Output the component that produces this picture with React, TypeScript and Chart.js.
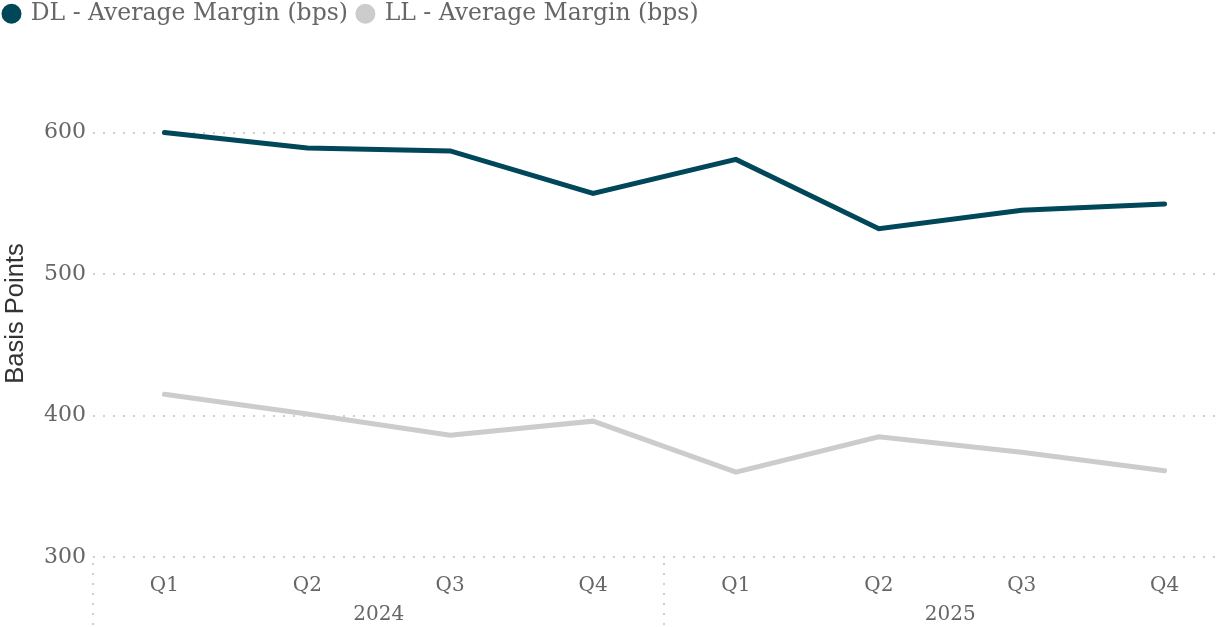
import { useEffect, useRef } from 'react';
import { Chart, registerables } from 'chart.js';

Chart.register(...registerables);

const quarters = ['Q1', 'Q2', 'Q3', 'Q4', 'Q1', 'Q2', 'Q3', 'Q4'];
const years = ['2024', '2025'];
const dlMargin = [600, 589, 587, 557, 581, 532, 545, 549.5];
const llMargin = [415, 401, 386, 396, 360, 385, 374, 361];
const yTicks = [300, 400, 500, 600];
const seriesNames = ['DL - Average Margin (bps)', 'LL - Average Margin (bps)'];
const seriesColors = ['#00475a', '#cccccc'];
const yTitle = 'Basis Points';

const SERIF = "'DejaVu Serif', serif";
const SANS = "'Liberation Sans', Arial, sans-serif";
const TEXT = '#666666';
const GRID = '#cfcfcf';

const legendSpacer = {
  id: 'legendSpacer',
  beforeInit(chart: any) {
    const legend = chart.legend;
    if (!legend) return;
    const origFit = legend.fit;
    legend.fit = function () {
      origFit.call(this);
      this.height += 97;
    };
  },
  afterLayout(chart: any) {
    const legend = chart.legend;
    if (!legend) return;
    const shift = legend.left + 6;
    legend.left -= shift;
    legend.right -= shift;
  },
};

const yAxisTitle = {
  id: 'yAxisTitle',
  afterDraw(chart: any) {
    const ctx = chart.ctx;
    ctx.save();
    ctx.translate(16, chart.height / 2);
    ctx.rotate(-Math.PI / 2);
    ctx.fillStyle = '#333333';
    ctx.font = `25.5px ${SANS}`;
    ctx.textAlign = 'center';
    ctx.textBaseline = 'middle';
    ctx.fillText(yTitle, 0, 0);
    ctx.restore();
  },
};

const groupSeparators = {
  id: 'groupSeparators',
  afterDraw(chart: any) {
    const x = chart.scales.x;
    const ctx = chart.ctx;
    const per = quarters.length / years.length;
    const half = (x.getPixelForValue(1) - x.getPixelForValue(0)) / 2;
    ctx.save();
    ctx.strokeStyle = GRID;
    ctx.lineWidth = 2;
    ctx.setLineDash([2, 8]);
    for (let g = 0; g <= years.length; g++) {
      const px = Math.round(x.getPixelForValue(g * per) - half);
      ctx.beginPath();
      ctx.moveTo(px, chart.chartArea.bottom + 6);
      ctx.lineTo(px, chart.height);
      ctx.stroke();
    }
    ctx.restore();
  },
};

export default function App() {
  const ref = useRef<HTMLCanvasElement | null>(null);

  useEffect(() => {
    if (!ref.current) return;
    const mkDataset = (i: number, data: number[]) => ({
      label: seriesNames[i],
      data,
      borderColor: seriesColors[i],
      backgroundColor: seriesColors[i],
      pointBackgroundColor: seriesColors[i],
      pointBorderColor: seriesColors[i],
      borderWidth: 5,
      pointRadius: 0,
      pointHoverRadius: 0,
      pointStyle: 'circle',
      borderCapStyle: 'round',
      tension: 0,
      clip: false,
    });
    const chart = new Chart(ref.current, {
      type: 'line',
      data: {
        labels: quarters,
        datasets: [mkDataset(0, dlMargin), mkDataset(1, llMargin)] as any,
      },
      options: {
        responsive: false,
        maintainAspectRatio: false,
        animation: false,
        layout: { padding: { left: 37, right: 14, top: -8, bottom: 0 } },
        plugins: {
          tooltip: { enabled: false },
          legend: {
            position: 'top',
            align: 'start',
            labels: {
              usePointStyle: true,
              pointStyleWidth: 15,
              boxHeight: 10.5,
              padding: 10,
              color: TEXT,
              font: { family: SERIF, size: 23.5 },
            },
          },
        },
        scales: {
          x: {
            type: 'category',
            offset: true,
            grid: { display: false, drawTicks: false, tickLength: 0 },
            border: { display: false },
            ticks: {
              color: TEXT,
              font: { family: SERIF, size: 20 },
              padding: 17,
              maxRotation: 0,
              autoSkip: false,
            },
            afterFit: (scale: any) => {
              scale.height -= 15;
            },
          },
          x2: {
            type: 'category',
            labels: years,
            position: 'bottom',
            offset: true,
            grid: { display: false, drawTicks: false, tickLength: 0 },
            border: { display: false },
            ticks: {
              color: TEXT,
              font: { family: SERIF, size: 20 },
              padding: 3,
              maxRotation: 0,
            },
            afterFit: (scale: any) => {
              scale.height -= 3;
            },
          },
          y: {
            min: 300,
            max: 600,
            afterBuildTicks: (scale: any) => {
              scale.ticks = yTicks.map((v) => ({ value: v }));
            },
            grid: {
              color: GRID,
              lineWidth: 2,
              drawTicks: false,
              tickLength: 0,
            },
            border: { display: false, dash: [2, 8] },
            ticks: {
              color: TEXT,
              font: { family: SERIF, size: 22 },
              padding: 7,
            },
          },
        },
      },
      plugins: [legendSpacer, groupSeparators, yAxisTitle],
    });
    return () => chart.destroy();
  }, []);

  return (
    <div
      style={{
        position: 'absolute',
        left: 0,
        top: 0,
        width: 1216,
        height: 627,
        overflow: 'hidden',
        background: '#ffffff',
      }}
    >
      <canvas ref={ref} width={1250} height={627} style={{ display: 'block' }} />
    </div>
  );
}
